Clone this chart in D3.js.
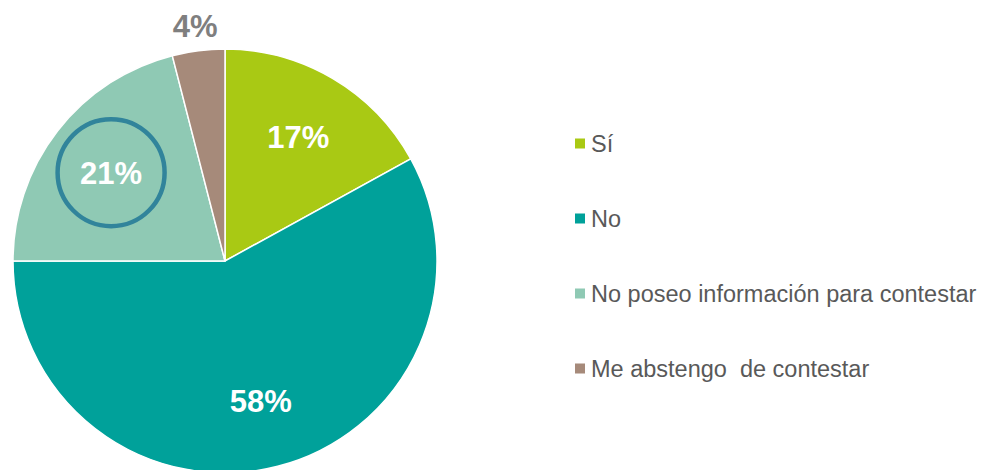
<!DOCTYPE html>
<html>
<head>
<meta charset="utf-8">
<script src="https://cdn.jsdelivr.net/npm/d3@7"></script>
<style>
  body { margin: 0; background: #fff; }
  svg { display: block; font-family: Arial, "Liberation Sans", Helvetica, sans-serif; }
</style>
</head>
<body>
<div id="chart"></div>
<script>
const categories = ['Sí', 'No', 'No poseo información para contestar', 'Me abstengo  de contestar'];
const values = [17, 58, 21, 4];
const colors = ['#a9c914', '#00a19a', '#8fc9b4', '#a68a7a'];
const highlighted = 2; // slice circled in the original

const width = 988;
const height = 470;
const cx = 225;
const cy = 261;
const radius = 212;

const svg = d3.select('#chart')
    .append('svg')
    .attr('width', width)
    .attr('height', height);

const data = categories.map((c, i) => ({name: c, value: values[i], color: colors[i]}));

const pie = d3.pie()
    .value(d => d.value)
    .sort(null);

const arc = d3.arc()
    .innerRadius(0)
    .outerRadius(radius);

const labelArc = d3.arc()
    .innerRadius(radius * 0.68)
    .outerRadius(radius * 0.68);

const outerLabelArc = d3.arc()
    .innerRadius(radius * 1.12)
    .outerRadius(radius * 1.12);

const g = svg.append('g')
    .attr('transform', 'translate(' + cx + ',' + cy + ')');

const arcs = pie(data);

g.selectAll('path')
    .data(arcs)
    .enter()
    .append('path')
    .attr('d', arc)
    .attr('fill', d => d.data.color)
    .attr('stroke', '#fff')
    .attr('stroke-width', 1.5);

// small slices get their label outside
function labelPos(d) {
  return d.data.value < 8 ? outerLabelArc.centroid(d) : labelArc.centroid(d);
}

// circle around the highlighted label
g.append('circle')
    .attr('cx', labelPos(arcs[highlighted])[0])
    .attr('cy', labelPos(arcs[highlighted])[1])
    .attr('r', 53.5)
    .attr('fill', 'none')
    .attr('stroke', '#31849b')
    .attr('stroke-width', 4.5);

g.selectAll('text.lbl')
    .data(arcs)
    .enter()
    .append('text')
    .attr('class', 'lbl')
    .attr('x', d => labelPos(d)[0])
    .attr('y', d => labelPos(d)[1])
    .attr('dy', '0.36em')
    .attr('text-anchor', 'middle')
    .attr('font-size', 31)
    .attr('font-weight', 'bold')
    .attr('fill', d => d.data.value < 8 ? '#7f7f7f' : '#fff')
    .text(d => d.data.value + '%');

// legend
const legendY = d3.scalePoint()
    .domain(categories)
    .range([143.5, 368.5]);

const legend = svg.append('g');

legend.selectAll('rect')
    .data(data)
    .enter()
    .append('rect')
    .attr('x', 575)
    .attr('y', d => legendY(d.name) - 5)
    .attr('width', 10)
    .attr('height', 10)
    .attr('fill', d => d.color);

legend.selectAll('text')
    .data(data)
    .enter()
    .append('text')
    .attr('x', 591)
    .attr('y', d => legendY(d.name))
    .attr('dy', '0.36em')
    .attr('font-size', 23.5)
    .attr('fill', '#595959')
    .style('white-space', 'pre')
    .text(d => d.name);
</script>
</body>
</html>
